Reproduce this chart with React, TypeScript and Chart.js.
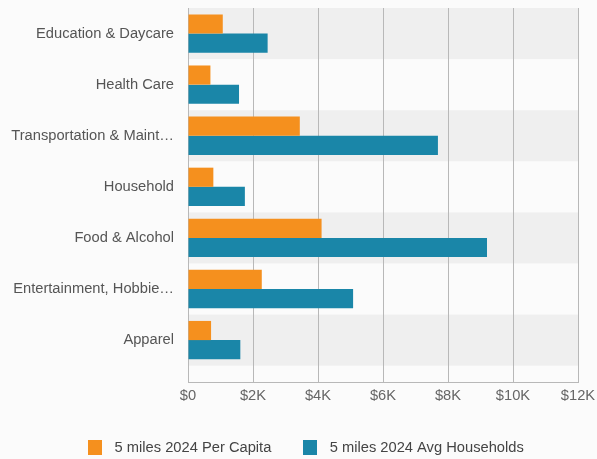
import { useEffect, useRef } from "react";
import { Chart, registerables } from "chart.js";

Chart.register(...registerables);

const categories = [
  "Education & Daycare",
  "Health Care",
  "Transportation & Maintenance",
  "Household",
  "Food & Alcohol",
  "Entertainment, Hobbies & Pets",
  "Apparel",
];
const perCapita = [1070, 690, 3440, 780, 4110, 2270, 710];
const avgHouseholds = [2450, 1570, 7690, 1750, 9200, 5080, 1610];
const seriesNames = ["5 miles 2024 Per Capita", "5 miles 2024 Avg Households"];
const seriesColors = ["#F5901E", "#1A86A8"];

const FONT_FAMILY = '"Liberation Sans", Arial, Helvetica, sans-serif';
const FONT_SIZE = 14.7;
const LABEL_MAX_WIDTH = 166;
const LEGEND_LEFT = 29;

let measureCtx: CanvasRenderingContext2D | null = null;
function truncate(text: string): string {
  if (!measureCtx) measureCtx = document.createElement("canvas").getContext("2d");
  const c = measureCtx!;
  c.font = `normal ${FONT_SIZE}px ${FONT_FAMILY}`;
  if (c.measureText(text).width <= LABEL_MAX_WIDTH) return text;
  let s = text;
  while (s.length > 1 && c.measureText(s + "…").width > LABEL_MAX_WIDTH) s = s.slice(0, -1);
  return s.trimEnd() + "…";
}

function swatch(color: string): HTMLCanvasElement {
  const cv = document.createElement("canvas");
  cv.width = 14;
  cv.height = 15;
  const c = cv.getContext("2d")!;
  c.fillStyle = color;
  c.fillRect(0, 0, 14, 15);
  return cv;
}

const bandPlugin = {
  id: "rowBands",
  afterLayout(chart: any) {
    if (chart.legend) chart.legend.left = LEGEND_LEFT;
  },
  beforeDraw(chart: any) {
    const { ctx, chartArea: a, scales } = chart;
    const y = scales.y;
    ctx.save();
    ctx.fillStyle = "#fbfbfb";
    ctx.fillRect(0, 0, chart.width, chart.height);
    ctx.fillStyle = "#efefef";
    categories.forEach((_, i) => {
      if (i % 2 !== 0) return;
      const p1 = y.getPixelForValue(i - 0.5);
      const p2 = y.getPixelForValue(i + 0.5);
      ctx.fillRect(a.left, Math.min(p1, p2), a.right - a.left, Math.abs(p2 - p1));
    });
    ctx.restore();
  },
};

export default function App() {
  const ref = useRef<HTMLCanvasElement>(null);

  useEffect(() => {
    const font = { family: FONT_FAMILY, size: FONT_SIZE };
    const swatches = seriesColors.map(swatch);
    const chart = new Chart(ref.current!, {
      type: "bar",
      data: {
        datasets: [
          {
            label: seriesNames[0],
            data: perCapita.map((v, i) => ({ x: v, y: i })),
            backgroundColor: seriesColors[0],
            borderWidth: 0,
          },
          {
            label: seriesNames[1],
            data: avgHouseholds.map((v, i) => ({ x: v, y: i })),
            backgroundColor: seriesColors[1],
            borderWidth: 0,
          },
        ],
      },
      options: {
        indexAxis: "y",
        responsive: false,
        animation: false,
        datasets: { bar: { categoryPercentage: 0.75, barPercentage: 1 } },
        layout: { padding: { top: 8, right: 19, left: 0, bottom: 0 } },
        scales: {
          x: {
            type: "linear",
            position: "bottom",
            min: 0,
            max: 12000,
            grid: { color: "#b8b8b8", drawTicks: false, lineWidth: 1 },
            border: { color: "#b8b8b8" },
            ticks: {
              stepSize: 2000,
              padding: 5,
              color: "#666666",
              font,
              callback: (v: any) => (Number(v) === 0 ? "$0" : `$${Number(v) / 1000}K`),
            },
            afterFit: (s: any) => {
              s.height = 31.3;
              s.paddingLeft = 0;
              s.paddingRight = 0;
            },
          },
          y: {
            type: "linear",
            position: "left",
            reverse: true,
            offset: false,
            bounds: "data",
            min: -0.5,
            max: 6.82,
            grid: { display: false, drawTicks: false, offset: false },
            border: { display: true, color: "#b8b8b8" },
            afterBuildTicks: (s: any) => {
              s.ticks = categories.map((_, i) => ({ value: i }));
            },
            ticks: {
              padding: 14,
              color: "#555555",
              font,
              autoSkip: false,
              callback: (v: any) => truncate(categories[Number(v)] ?? ""),
            },
            afterFit: (s: any) => {
              s.width = 188;
              s.paddingTop = 0;
              s.paddingBottom = 0;
            },
          },
        },
        plugins: {
          legend: {
            position: "bottom",
            labels: {
              usePointStyle: true,
              pointStyleWidth: 24,
              boxWidth: 14,
              boxHeight: 14,
              padding: 27,
              color: "#444444",
              font,
              generateLabels: (ch: any) =>
                Chart.defaults.plugins.legend.labels
                  .generateLabels(ch)
                  .map((item: any, i: number) => ({ ...item, pointStyle: swatches[i] })),
            },
          },
          tooltip: { enabled: false },
        },
      },
      plugins: [bandPlugin],
    } as any);
    return () => chart.destroy();
  }, []);

  return (
    <div style={{ position: "fixed", left: 0, top: 0, width: 597, height: 465, background: "#fbfbfb" }}>
      <canvas ref={ref} width={597} height={465} style={{ display: "block", width: 597, height: 465 }} />
    </div>
  );
}
